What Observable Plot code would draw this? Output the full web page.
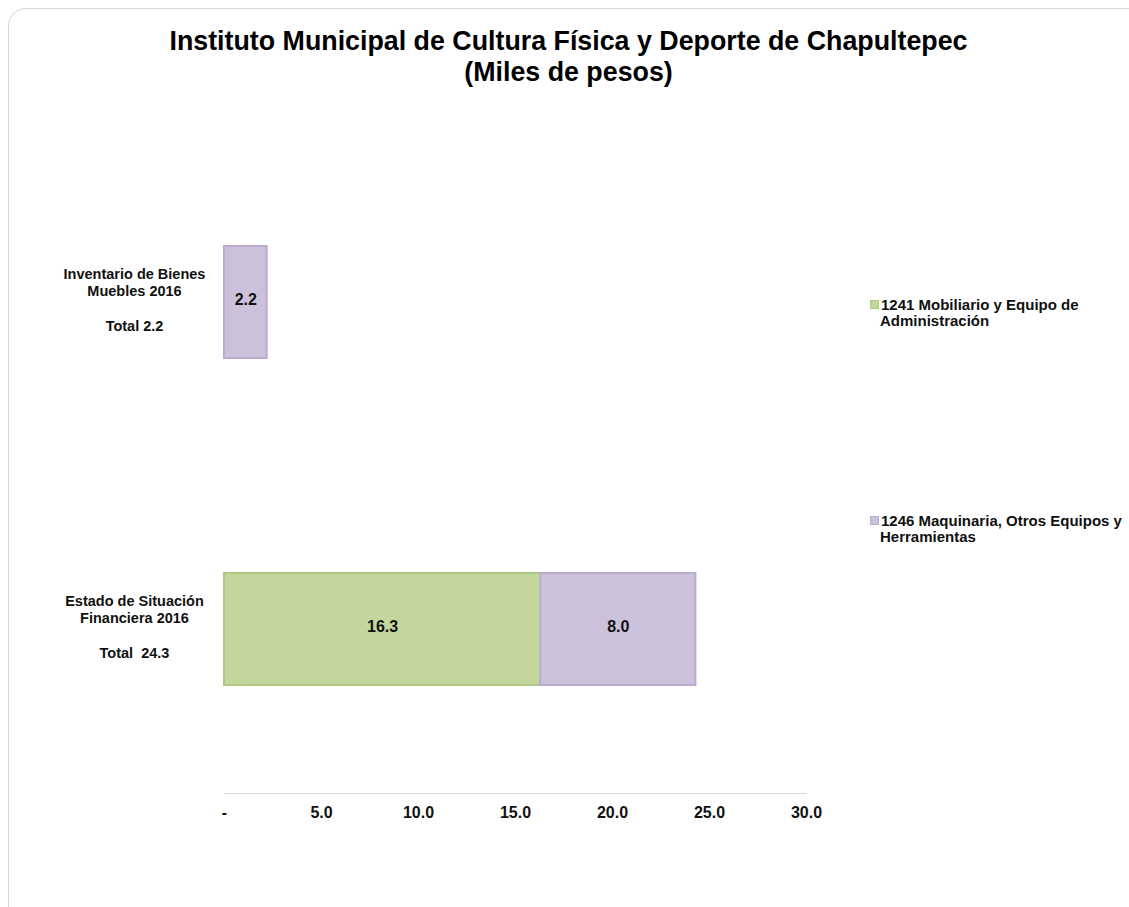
<!DOCTYPE html>
<html>
<head>
<meta charset="utf-8">
<script src="https://cdn.jsdelivr.net/npm/d3@7"></script>
<script src="https://cdn.jsdelivr.net/npm/@observablehq/plot@0.6"></script>
<style>
  html, body { margin: 0; padding: 0; background: #fff; overflow: hidden; }
  #wrap { position: relative; width: 1129px; height: 907px; overflow: hidden; font-family: "Liberation Sans", Arial, sans-serif; }
  #frame { position: absolute; left: 8px; top: 8px; width: 1300px; height: 1000px; border-top: 1px solid #d9d9d4; border-left: 1px solid #d9d9d4; border-top-left-radius: 18px; }
  #title { position: absolute; left: 0; top: 26px; width: 1137px; text-align: center; font-weight: bold; font-size: 26.8px; line-height: 31px; color: #000; }
  #chart { position: absolute; left: 0; top: 0; }
  .leg { position: absolute; left: 870px; font-weight: bold; font-size: 15px; line-height: 16px; color: #111; }
  .sw { display: inline-block; width: 7px; height: 7px; margin-right: 2px; vertical-align: 1px; }
</style>
</head>
<body>
<div id="wrap">
  <div id="frame"></div>
  <div id="chart"></div>
  <div id="title">Instituto Municipal de Cultura Física y Deporte de Chapultepec<br>(Miles de pesos)</div>
  <div id="legend"></div>
</div>
<script>
const categories = ["Inventario de Bienes Muebles 2016", "Estado de Situación Financiera 2016"];
const categoryLabels = ["Inventario de Bienes\nMuebles 2016\n\nTotal 2.2", "Estado de Situación\nFinanciera 2016\n\nTotal  24.3"];
const seriesNames = ["1241 Mobiliario y Equipo de Administración", "1246 Maquinaria, Otros Equipos y Herramientas"];
const seriesLegend = ["1241 Mobiliario y Equipo de<br>Administración", "1246 Maquinaria, Otros Equipos y<br>Herramientas"];
const mobiliario = [0, 16.3];
const maquinaria = [2.2, 8.0];
const xTicks = [0, 5, 10, 15, 20, 25, 30];
const xTickLabels = ["-", "5.0", "10.0", "15.0", "20.0", "25.0", "30.0"];
const colors = ["#c3d69b", "#ccc1da"];
const strokes = ["#b0c784", "#b9acce"];

const rows = [];
categories.forEach((c, i) => {
  if (mobiliario[i] > 0) rows.push({cat: c, series: seriesNames[0], value: mobiliario[i]});
  if (maquinaria[i] > 0) rows.push({cat: c, series: seriesNames[1], value: maquinaria[i]});
});

const labelOpts = (filter, dy) => Plot.text(rows, Plot.stackX({x: "value", y: "cat", filter, text: (d) => d.value.toFixed(1), fontWeight: "bold", fontSize: 16, fill: "#111", dy}));

const chart = Plot.plot({
  width: 1129,
  height: 907,
  marginLeft: 224,
  marginRight: 323,
  marginTop: 138,
  marginBottom: 114,
  style: {fontFamily: "'Liberation Sans', Arial, sans-serif", background: "transparent"},
  x: {domain: [0, 30], label: null},
  y: {domain: categories, paddingInner: 0.652, paddingOuter: 0.325, axis: null},
  color: {domain: seriesNames, range: colors},
  marks: [
    Plot.frame({anchor: "bottom", stroke: "#d9d9d9"}),
    Plot.barX(rows, Plot.stackX({x: "value", y: "cat", fill: "series", stroke: (d) => strokes[seriesNames.indexOf(d.series)], strokeWidth: 2, insetTop: 1, insetBottom: 1})),
    Plot.text(rows, Plot.stackX({x: "value", y: "cat", text: (d) => d.value.toFixed(1), fontWeight: "bold", fontSize: 16, fill: "#111", dy: -3})),
    Plot.text(categories, {x: () => 0, y: (d) => d, text: (d, i) => categoryLabels[i], dx: -90, textAnchor: "middle", lineHeight: 1.2, fontWeight: "bold", fontSize: 14.5, fill: "#111", dy: -3}),
    Plot.axisX({ticks: xTicks, tickFormat: (d) => xTickLabels[xTicks.indexOf(d)], tickSize: 0, tickPadding: 13, fontWeight: "bold", fontSize: 16, fill: "#111", label: null})
  ]
});
document.getElementById("chart").appendChild(chart);

const legendTops = [297, 513];
const leg = document.getElementById("legend");
seriesLegend.forEach((s, i) => {
  const d = document.createElement("div");
  d.className = "leg";
  d.style.top = legendTops[i] + "px";
  d.innerHTML = `<span class="sw" style="background:${colors[i]};border:0.5px solid ${strokes[i]}"></span>` + s.replace("<br>", "<br><span style='display:inline-block;width:10px'></span>");
  leg.appendChild(d);
});
</script>
</body>
</html>
